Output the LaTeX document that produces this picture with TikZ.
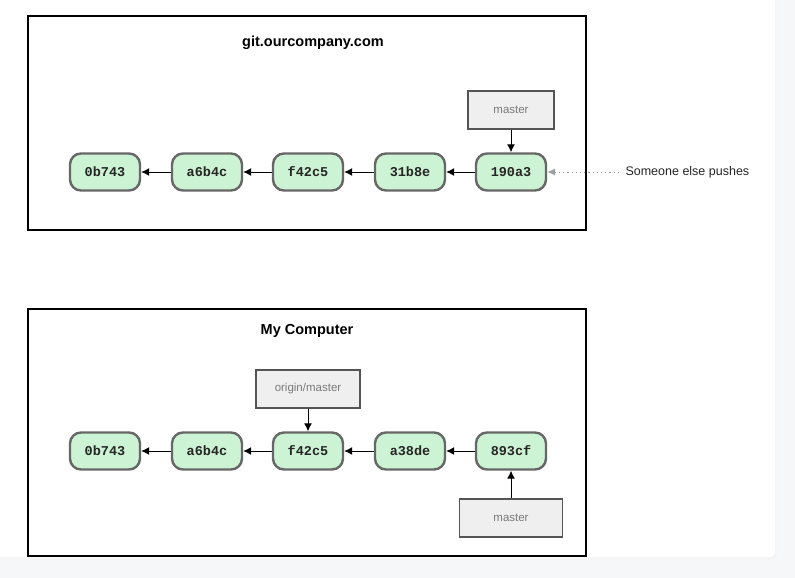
\documentclass[tikz,border=0pt]{standalone}
\usepackage{fontspec}
\setmainfont{Liberation Sans}
\newfontfamily\commitfont{Liberation Mono}
\usetikzlibrary{arrows.meta}
\definecolor{bgout}{HTML}{F6F7F9}
\definecolor{commitfill}{HTML}{CCF3D3}
\definecolor{commitdraw}{HTML}{676767}
\definecolor{reffill}{HTML}{EFEFEF}
\definecolor{refdraw}{HTML}{555555}
\definecolor{reftext}{HTML}{7A7A7A}
\tikzset{
  commit/.style={draw=commitdraw, fill=commitfill, line width=2.4pt, rounded corners=11pt,
    minimum width=70pt, minimum height=37pt, inner sep=0pt,
    font=\commitfont\bfseries\fontsize{13.5}{13.5}\selectfont, text=black!85},
  refbox/.style={draw=refdraw, fill=reffill, line width=1.3pt,
    minimum height=38pt, inner sep=0pt, font=\fontsize{11.5}{11.5}\selectfont, text=reftext},
  frame/.style={draw=black, line width=2pt},
  title/.style={font=\bfseries\fontsize{14.5}{14.5}\selectfont},
  parent/.style={line width=1pt, -{Latex[length=8pt,width=8pt]}}
}
\begin{document}
\begin{tikzpicture}[x=1pt,y=-1pt]
\useasboundingbox (0,0) rectangle (795,578);
\fill[bgout] (0,0) rectangle (795,578);
\fill[black!4, rounded corners=7pt] (-10,-10) rectangle (777,560);
\fill[white, rounded corners=6pt] (-10,-10) rectangle (775,557);

% frames
\node[frame, minimum width=558pt, minimum height=213pt, inner sep=0pt] (srv) at (307,123) {};
\node[frame, minimum width=558pt, minimum height=247pt, inner sep=0pt] (loc) at (307,432) {};
\node[title] (srvt) at (313,43) {git.ourcompany.com};
\node[title] (loct) at (307,331) {My Computer};

% server commits
\node[commit] (s1) at (105,172) {0b743};
\node[commit] (s2) at (207,172) {a6b4c};
\node[commit] (s3) at (308,172) {f42c5};
\node[commit] (s4) at (410,172) {31b8e};
\node[commit] (s5) at (511,172) {190a3};
\node[refbox, minimum width=86pt] (smaster) at (511,110) {master};
\draw[parent] (s2) -- (s1);
\draw[parent] (s3) -- (s2);
\draw[parent] (s4) -- (s3);
\draw[parent] (s5) -- (s4);
\draw[parent] (smaster) -- (s5);
\node[anchor=west, font=\fontsize{12.5}{12.5}\selectfont, text=black!85] (push) at (622,172) {Someone else pushes};
\coordinate (pushstart) at (619,172);
\draw[draw=gray!75, line width=1pt, dash pattern=on 1.2pt off 3pt, -{Latex[length=8pt,width=7pt,fill=gray!75]}] (pushstart) -- (s5.east);

% local commits
\node[commit] (l1) at (105,451) {0b743};
\node[commit] (l2) at (207,451) {a6b4c};
\node[commit] (l3) at (308,451) {f42c5};
\node[commit] (l4) at (410,451) {a38de};
\node[commit] (l5) at (511,451) {893cf};
\node[refbox, minimum width=104pt] (origin) at (308,389) {origin/master};
\node[refbox, minimum width=103pt] (lmaster) at (511,518) {master};
\draw[parent] (l2) -- (l1);
\draw[parent] (l3) -- (l2);
\draw[parent] (l4) -- (l3);
\draw[parent] (l5) -- (l4);
\draw[parent] (origin) -- (l3);
\draw[parent] (lmaster) -- (l5);
\end{tikzpicture}
\end{document}
